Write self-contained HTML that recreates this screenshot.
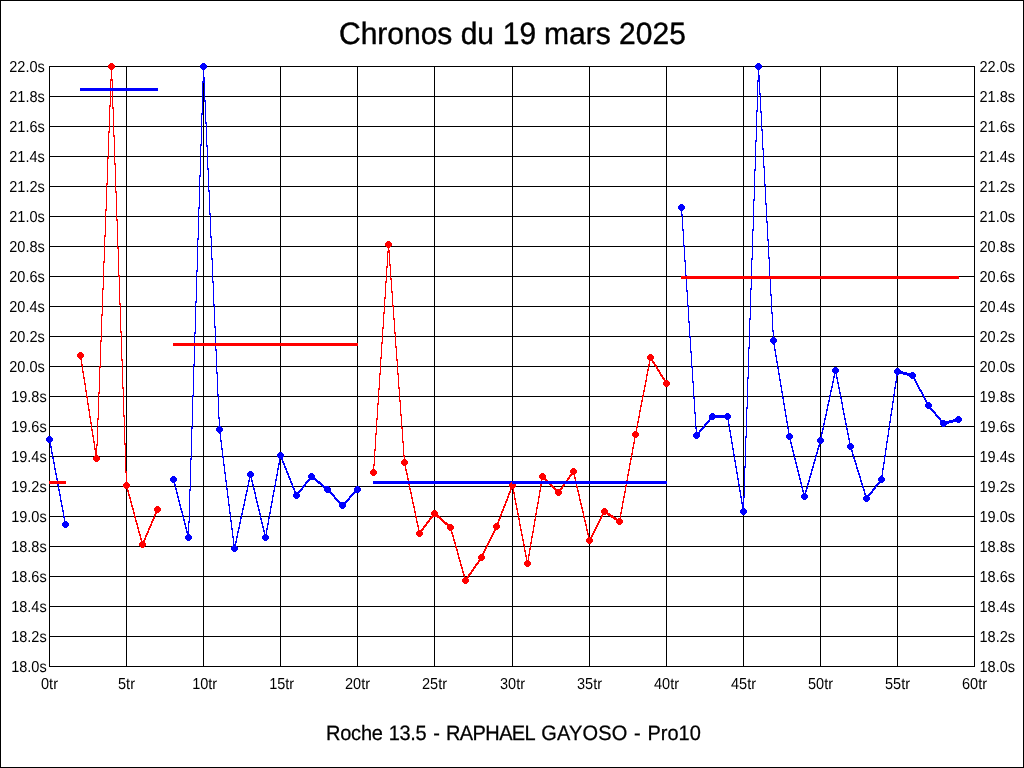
<!DOCTYPE html>
<html><head><meta charset="utf-8"><title>Chronos du 19 mars 2025</title>
<style>
html,body{margin:0;padding:0;background:#fff;width:1024px;height:768px;overflow:hidden}
svg{display:block;position:absolute;left:0;top:0;will-change:transform}
text{font-family:"Liberation Sans",sans-serif;fill:#000;text-rendering:geometricPrecision}
.ax text{font-size:14.67px;letter-spacing:0px}
</style></head><body>
<svg width="1024" height="768" viewBox="0 0 1024 768">
<rect width="1024" height="768" fill="#fff"/>
<g shape-rendering="crispEdges">
<path fill="#000" d="M0 0h1024v1h-1024zM0 767h1024v1h-1024zM0 0h1v768h-1zM1023 0h1v768h-1z"/>
<path fill="#000" d="M49 66h1v601h-1zM126 66h1v601h-1zM203 66h1v601h-1zM280 66h1v601h-1zM357 66h1v601h-1zM434 66h1v601h-1zM512 66h1v601h-1zM589 66h1v601h-1zM666 66h1v601h-1zM743 66h1v601h-1zM820 66h1v601h-1zM897 66h1v601h-1zM974 66h1v601h-1zM49 66h926v1h-926zM49 96h926v1h-926zM49 126h926v1h-926zM49 156h926v1h-926zM49 186h926v1h-926zM49 216h926v1h-926zM49 246h926v1h-926zM49 276h926v1h-926zM49 306h926v1h-926zM49 336h926v1h-926zM49 366h926v1h-926zM49 396h926v1h-926zM49 426h926v1h-926zM49 456h926v1h-926zM49 486h926v1h-926zM49 516h926v1h-926zM49 546h926v1h-926zM49 576h926v1h-926zM49 606h926v1h-926zM49 636h926v1h-926zM49 666h926v1h-926z"/>
<path fill="#f00" d="M110 63h3v1h-3zM109 64h5v1h-5zM108 65h7v3h-7zM109 68h5v1h-5zM110 69h3v1h-3zM111 70h1v9h-1zM110 79h3v2h-3zM112 81h1v7h-1zM110 81h1v7h-1zM110 91h1v14h-1zM112 91h1v16h-1zM109 105h2v2h-2zM112 107h2v2h-2zM109 107h1v24h-1zM108 131h2v2h-2zM113 109h1v26h-1zM113 135h2v2h-2zM108 133h1v24h-1zM107 157h2v2h-2zM114 137h1v26h-1zM114 163h2v2h-2zM107 159h1v24h-1zM106 183h2v2h-2zM115 165h1v26h-1zM115 191h2v2h-2zM106 185h1v24h-1zM105 209h2v2h-2zM116 193h1v26h-1zM116 219h2v2h-2zM105 211h1v24h-1zM104 235h2v2h-2zM387 241h3v1h-3zM386 242h5v1h-5zM385 243h7v3h-7zM117 221h1v26h-1zM386 246h5v1h-5zM387 247h3v1h-3zM117 247h2v2h-2zM388 248h1v2h-1zM388 250h2v1h-2zM387 251h3v2h-3zM104 237h1v24h-1zM103 261h2v2h-2zM389 253h1v11h-1zM387 253h1v13h-1zM389 264h2v2h-2zM386 266h2v2h-2zM118 249h1v26h-1zM118 275h2v2h-2zM390 266h1v12h-1zM681 276h278v3h-278zM390 278h2v2h-2zM386 268h1v13h-1zM385 281h2v2h-2zM103 263h1v25h-1zM102 288h2v2h-2zM391 280h1v11h-1zM391 291h2v2h-2zM385 283h1v14h-1zM384 297h2v2h-2zM119 277h1v26h-1zM392 293h1v12h-1zM119 303h2v2h-2zM392 305h2v2h-2zM384 299h1v13h-1zM102 290h1v24h-1zM383 312h2v2h-2zM101 314h2v2h-2zM393 307h1v11h-1zM393 318h2v2h-2zM383 314h1v13h-1zM382 327h2v2h-2zM120 305h1v26h-1zM394 320h1v12h-1zM120 331h2v2h-2zM394 332h2v2h-2zM101 316h1v24h-1zM382 329h1v13h-1zM100 340h2v2h-2zM381 342h2v2h-2zM395 334h1v12h-1zM173 343h185v3h-185zM395 346h2v2h-2zM79 352h3v1h-3zM78 353h5v1h-5zM649 354h3v1h-3zM648 355h5v1h-5zM381 344h1v13h-1zM77 354h7v3h-7zM78 357h5v1h-5zM121 333h1v26h-1zM396 348h1v11h-1zM647 356h7v3h-7zM380 357h2v2h-2zM79 358h3v1h-3zM648 359h5v1h-5zM80 359h2v1h-2zM121 359h2v2h-2zM396 359h2v2h-2zM649 360h4v1h-4zM652 361h2v1h-2zM652 362h3v1h-3zM81 360h1v4h-1zM649 361h1v3h-1zM653 363h2v1h-2zM654 364h2v1h-2zM100 342h1v24h-1zM648 364h2v2h-2zM81 364h2v2h-2zM654 365h3v1h-3zM655 366h2v1h-2zM99 366h2v2h-2zM648 366h1v3h-1zM656 367h2v2h-2zM657 369h2v1h-2zM82 366h1v5h-1zM647 369h2v2h-2zM657 370h3v1h-3zM658 371h2v1h-2zM380 359h1v14h-1zM397 361h1v12h-1zM82 371h2v2h-2zM647 371h1v3h-1zM659 372h2v2h-2zM397 373h2v2h-2zM379 373h2v2h-2zM660 374h2v1h-2zM646 374h2v2h-2zM660 375h3v1h-3zM83 373h1v4h-1zM661 376h2v1h-2zM662 377h2v1h-2zM83 377h2v2h-2zM662 378h3v1h-3zM646 376h1v4h-1zM663 379h2v1h-2zM664 380h4v1h-4zM645 380h2v2h-2zM664 381h5v1h-5zM84 379h1v4h-1zM645 382h1v3h-1zM663 382h7v3h-7zM84 383h2v2h-2zM664 385h5v1h-5zM122 361h1v26h-1zM398 375h1v12h-1zM644 385h2v2h-2zM665 386h3v1h-3zM379 375h1v13h-1zM398 387h2v2h-2zM122 387h2v2h-2zM85 385h1v5h-1zM644 387h1v3h-1zM378 388h2v2h-2zM99 368h1v24h-1zM85 390h2v2h-2zM643 390h2v2h-2zM98 392h2v2h-2zM643 392h1v3h-1zM86 392h1v4h-1zM642 395h2v2h-2zM86 396h2v2h-2zM399 389h1v11h-1zM642 397h1v3h-1zM641 400h2v2h-2zM399 400h2v2h-2zM378 390h1v13h-1zM87 398h1v5h-1zM641 402h1v3h-1zM87 403h2v2h-2zM377 403h2v2h-2zM640 405h2v2h-2zM88 405h1v4h-1zM640 407h1v3h-1zM88 409h2v2h-2zM639 410h2v2h-2zM400 402h1v12h-1zM123 389h1v26h-1zM89 411h1v5h-1zM639 412h1v4h-1zM400 414h2v2h-2zM123 415h2v2h-2zM98 394h1v24h-1zM377 405h1v13h-1zM638 416h2v2h-2zM89 416h2v2h-2zM376 418h2v2h-2zM97 418h2v2h-2zM638 418h1v3h-1zM90 418h1v4h-1zM637 421h2v2h-2zM90 422h2v2h-2zM637 423h1v3h-1zM401 416h1v11h-1zM636 426h2v2h-2zM91 424h1v5h-1zM401 427h2v2h-2zM636 428h1v3h-1zM91 429h2v2h-2zM634 431h3v1h-3zM376 420h1v13h-1zM633 432h5v1h-5zM92 431h1v4h-1zM375 433h2v2h-2zM632 433h7v3h-7zM92 435h2v2h-2zM633 436h5v1h-5zM634 437h3v1h-3zM402 429h1v12h-1zM93 437h1v4h-1zM634 438h1v4h-1zM124 417h1v26h-1zM93 441h2v2h-2zM402 441h2v2h-2zM97 420h1v24h-1zM633 442h2v2h-2zM124 443h2v2h-2zM96 444h2v2h-2zM633 444h1v3h-1zM94 443h1v5h-1zM96 446h1v2h-1zM375 435h1v14h-1zM632 447h2v2h-2zM94 448h3v2h-3zM374 449h2v2h-2zM632 449h1v4h-1zM403 443h1v12h-1zM95 450h2v5h-2zM631 453h2v2h-2zM95 455h3v1h-3zM403 455h2v2h-2zM94 456h5v1h-5zM631 455h1v3h-1zM404 457h1v2h-1zM93 457h7v3h-7zM630 458h2v2h-2zM403 459h3v1h-3zM94 460h5v1h-5zM402 460h5v1h-5zM95 461h3v1h-3zM630 460h1v3h-1zM374 451h1v13h-1zM401 461h7v3h-7zM629 463h2v2h-2zM402 464h5v1h-5zM373 464h2v2h-2zM403 465h3v1h-3zM629 465h1v4h-1zM405 466h1v3h-1zM373 466h1v3h-1zM572 468h3v1h-3zM571 469h5v1h-5zM372 469h3v1h-3zM125 445h1v26h-1zM628 469h2v2h-2zM405 469h2v2h-2zM371 470h5v1h-5zM570 470h7v3h-7zM406 471h1v2h-1zM125 471h2v2h-2zM370 471h7v3h-7zM628 471h1v3h-1zM571 473h5v1h-5zM541 473h3v1h-3zM406 473h2v2h-2zM371 474h5v1h-5zM570 474h5v1h-5zM540 474h5v1h-5zM627 474h2v2h-2zM569 475h3v1h-3zM372 475h3v1h-3zM574 475h1v2h-1zM569 476h2v1h-2zM539 475h7v3h-7zM407 475h1v3h-1zM568 477h2v1h-2zM574 477h2v2h-2zM567 478h3v1h-3zM540 478h6v1h-6zM627 476h1v4h-1zM407 478h2v2h-2zM541 479h6v1h-6zM567 479h2v1h-2zM575 479h1v2h-1zM626 480h2v1h-2zM408 480h1v1h-1zM566 480h2v1h-2zM541 480h1v1h-1zM545 480h3v1h-3zM126 473h1v9h-1zM511 482h1v1h-1zM125 482h3v1h-3zM49 481h17v3h-17zM124 483h5v1h-5zM510 483h2v1h-2zM626 484h1v1h-1zM563 484h2v1h-2zM549 484h3v1h-3zM408 484h2v1h-2zM540 484h2v2h-2zM576 484h1v2h-1zM550 485h3v1h-3zM562 485h3v1h-3zM123 484h7v3h-7zM509 484h7v3h-7zM625 485h2v2h-2zM562 486h2v1h-2zM551 486h3v1h-3zM409 485h1v3h-1zM576 486h2v2h-2zM510 487h5v1h-5zM561 487h2v1h-2zM124 487h5v1h-5zM552 487h3v1h-3zM560 488h3v1h-3zM510 488h4v1h-4zM125 488h3v1h-3zM553 488h3v1h-3zM540 486h1v4h-1zM409 488h2v2h-2zM577 488h1v2h-1zM554 489h8v1h-8zM127 489h1v1h-1zM510 489h2v1h-2zM625 487h1v4h-1zM510 490h1v1h-1zM555 490h6v1h-6zM513 489h1v3h-1zM127 490h2v2h-2zM577 490h2v2h-2zM539 490h2v2h-2zM410 490h1v2h-1zM509 491h2v2h-2zM624 491h2v2h-2zM555 491h7v3h-7zM128 492h1v2h-1zM578 492h1v2h-1zM410 492h2v2h-2zM513 492h2v2h-2zM508 493h2v2h-2zM556 494h5v1h-5zM539 492h1v4h-1zM624 493h1v3h-1zM128 494h2v2h-2zM578 494h2v2h-2zM508 495h1v1h-1zM557 495h3v1h-3zM411 494h1v3h-1zM129 496h1v1h-1zM514 494h1v4h-1zM507 496h2v2h-2zM623 496h2v2h-2zM538 496h2v2h-2zM579 496h1v3h-1zM411 497h2v2h-2zM129 497h2v2h-2zM507 498h1v1h-1zM514 498h2v2h-2zM623 498h1v3h-1zM130 499h1v2h-1zM506 499h2v2h-2zM579 499h2v2h-2zM538 498h1v4h-1zM412 499h1v3h-1zM515 500h1v3h-1zM130 501h2v2h-2zM580 501h1v2h-1zM505 501h2v2h-2zM622 501h2v2h-2zM412 502h2v2h-2zM537 502h2v2h-2zM505 503h1v1h-1zM580 503h2v2h-2zM131 503h1v2h-1zM515 503h2v2h-2zM413 504h1v2h-1zM504 504h2v2h-2zM622 503h1v4h-1zM537 504h1v3h-1zM581 505h1v2h-1zM131 505h2v2h-2zM156 506h3v1h-3zM516 505h1v3h-1zM413 506h2v2h-2zM503 506h2v2h-2zM132 507h1v1h-1zM155 507h5v1h-5zM536 507h2v2h-2zM621 507h2v2h-2zM581 507h2v2h-2zM503 508h1v1h-1zM603 508h3v1h-3zM516 508h2v2h-2zM132 508h2v2h-2zM602 509h5v1h-5zM414 508h1v3h-1zM154 508h7v3h-7zM502 509h2v2h-2zM582 509h1v2h-1zM433 510h3v1h-3zM621 509h1v3h-1zM133 510h1v2h-1zM155 511h5v1h-5zM432 511h5v1h-5zM536 509h1v4h-1zM517 510h1v3h-1zM601 510h7v3h-7zM582 511h2v2h-2zM414 511h2v2h-2zM501 511h2v2h-2zM155 512h4v1h-4zM133 512h2v2h-2zM620 512h2v2h-2zM501 513h1v1h-1zM155 513h2v1h-2zM602 513h8v1h-8zM431 512h7v3h-7zM535 513h2v2h-2zM517 513h2v2h-2zM607 514h4v1h-4zM602 514h4v1h-4zM415 513h1v3h-1zM583 513h1v3h-1zM134 514h1v2h-1zM500 514h2v2h-2zM154 514h2v2h-2zM608 515h5v1h-5zM432 515h7v1h-7zM601 515h2v2h-2zM154 516h1v1h-1zM500 516h1v1h-1zM431 516h9v1h-9zM610 516h4v1h-4zM620 514h1v4h-1zM518 515h1v3h-1zM583 516h2v2h-2zM134 516h2v2h-2zM415 516h2v2h-2zM437 517h4v1h-4zM430 517h3v1h-3zM611 517h5v1h-5zM535 515h1v4h-1zM600 517h2v2h-2zM499 517h2v2h-2zM153 517h2v2h-2zM613 518h4v1h-4zM439 518h3v1h-3zM429 518h3v1h-3zM618 518h3v1h-3zM584 518h1v2h-1zM135 518h1v2h-1zM518 518h2v2h-2zM429 519h2v1h-2zM440 519h3v1h-3zM614 519h8v1h-8zM416 518h1v3h-1zM498 519h2v2h-2zM599 519h2v2h-2zM152 519h2v2h-2zM534 519h2v2h-2zM441 520h3v1h-3zM428 520h2v1h-2zM584 520h2v2h-2zM135 520h2v2h-2zM498 521h1v1h-1zM442 521h3v1h-3zM427 521h3v1h-3zM616 520h7v3h-7zM416 521h2v2h-2zM598 521h2v2h-2zM151 521h2v2h-2zM136 522h1v1h-1zM443 522h4v1h-4zM426 522h3v1h-3zM497 522h2v1h-2zM519 520h1v4h-1zM585 522h1v2h-1zM151 523h1v1h-1zM444 523h4v1h-4zM495 523h4v1h-4zM617 523h5v1h-5zM426 523h2v1h-2zM534 521h1v4h-1zM417 523h1v2h-1zM597 523h2v2h-2zM136 523h2v2h-2zM494 524h5v1h-5zM425 524h2v1h-2zM445 524h7v1h-7zM618 524h3v1h-3zM150 524h2v2h-2zM519 524h2v2h-2zM585 524h2v2h-2zM447 525h6v1h-6zM424 525h3v1h-3zM596 525h2v2h-2zM137 525h1v2h-1zM533 525h2v2h-2zM417 525h2v2h-2zM423 526h3v1h-3zM493 525h7v3h-7zM149 526h2v2h-2zM423 527h2v1h-2zM520 526h1v3h-1zM586 526h1v3h-1zM447 526h7v3h-7zM137 527h2v2h-2zM595 527h2v2h-2zM494 528h5v1h-5zM422 528h2v1h-2zM418 527h1v3h-1zM148 528h2v2h-2zM421 529h3v1h-3zM494 529h4v1h-4zM448 529h5v1h-5zM533 527h1v4h-1zM138 529h1v2h-1zM586 529h2v2h-2zM520 529h2v2h-2zM594 529h2v2h-2zM148 530h1v1h-1zM449 530h3v1h-3zM418 530h5v1h-5zM494 530h2v1h-2zM417 531h5v1h-5zM451 531h1v1h-1zM493 531h2v2h-2zM532 531h2v2h-2zM593 531h2v2h-2zM147 531h2v2h-2zM587 531h1v2h-1zM138 531h2v2h-2zM521 531h1v3h-1zM451 532h2v2h-2zM139 533h1v1h-1zM416 532h7v3h-7zM146 533h2v2h-2zM592 533h2v2h-2zM492 533h2v2h-2zM587 533h2v2h-2zM452 534h1v1h-1zM532 533h1v3h-1zM139 534h2v2h-2zM521 534h2v2h-2zM417 535h5v1h-5zM588 535h1v2h-1zM491 535h2v2h-2zM591 535h2v2h-2zM452 535h2v2h-2zM145 535h2v2h-2zM418 536h3v1h-3zM531 536h2v2h-2zM140 536h1v2h-1zM145 537h1v1h-1zM588 537h4v1h-4zM522 536h1v3h-1zM453 537h1v2h-1zM490 537h2v2h-2zM587 538h5v1h-5zM140 538h2v2h-2zM144 538h2v2h-2zM522 539h2v2h-2zM489 539h2v2h-2zM453 539h2v2h-2zM141 540h1v1h-1zM143 540h2v1h-2zM531 538h1v4h-1zM586 539h7v3h-7zM141 541h4v1h-4zM454 541h1v1h-1zM488 541h2v2h-2zM587 542h5v1h-5zM140 542h5v1h-5zM523 541h1v3h-1zM454 542h2v2h-2zM530 542h2v2h-2zM588 543h3v1h-3zM487 543h2v2h-2zM139 543h7v3h-7zM523 544h2v2h-2zM455 544h1v2h-1zM486 545h2v2h-2zM140 546h5v1h-5zM530 544h1v4h-1zM455 546h2v2h-2zM141 547h3v1h-3zM485 547h2v2h-2zM456 548h1v1h-1zM524 546h1v4h-1zM529 548h2v2h-2zM456 549h2v2h-2zM484 549h2v2h-2zM524 550h2v2h-2zM457 551h1v2h-1zM483 551h2v2h-2zM529 550h1v4h-1zM482 553h2v1h-2zM525 552h1v3h-1zM457 553h2v2h-2zM480 554h4v1h-4zM528 554h2v2h-2zM479 555h5v1h-5zM458 555h1v2h-1zM525 555h2v2h-2zM478 556h7v3h-7zM458 557h2v2h-2zM528 556h1v4h-1zM526 557h1v3h-1zM479 559h5v1h-5zM459 559h1v1h-1zM526 560h3v1h-3zM478 560h5v1h-5zM459 560h2v2h-2zM478 561h2v1h-2zM525 561h5v1h-5zM477 562h2v1h-2zM460 562h1v2h-1zM476 563h3v1h-3zM524 562h7v3h-7zM475 564h3v1h-3zM460 564h2v2h-2zM525 565h5v1h-5zM475 565h2v1h-2zM474 566h2v1h-2zM526 566h3v1h-3zM461 566h1v1h-1zM473 567h3v1h-3zM461 567h2v2h-2zM473 568h2v1h-2zM472 569h2v1h-2zM462 569h1v2h-1zM471 570h3v1h-3zM471 571h2v1h-2zM462 571h2v2h-2zM470 572h2v1h-2zM469 573h3v1h-3zM463 573h1v1h-1zM468 574h3v1h-3zM463 574h2v2h-2zM468 575h2v1h-2zM467 576h2v1h-2zM464 576h1v1h-1zM464 577h5v1h-5zM463 578h5v1h-5zM462 579h7v3h-7zM463 582h5v1h-5zM464 583h3v1h-3z"/>
<path fill="#00f" d="M202 63h3v1h-3zM757 63h3v1h-3zM201 64h5v1h-5zM756 64h5v1h-5zM200 65h7v3h-7zM755 65h7v3h-7zM201 68h5v1h-5zM756 68h5v1h-5zM202 69h3v1h-3zM757 69h3v1h-3zM758 70h1v5h-1zM203 70h1v7h-1zM758 75h2v5h-2zM203 77h2v4h-2zM757 80h3v2h-3zM202 81h3v2h-3zM80 88h78v3h-78zM759 82h1v11h-1zM759 93h2v2h-2zM204 83h1v17h-1zM204 100h2v2h-2zM757 82h1v28h-1zM760 95h1v16h-1zM756 110h2v2h-2zM202 83h1v30h-1zM760 111h2v2h-2zM201 113h2v2h-2zM205 102h1v20h-1zM205 122h2v2h-2zM761 113h1v16h-1zM761 129h2v2h-2zM756 112h1v28h-1zM755 140h2v2h-2zM201 115h1v29h-1zM206 124h1v21h-1zM200 144h2v2h-2zM206 145h2v2h-2zM762 131h1v17h-1zM762 148h2v2h-2zM763 150h1v16h-1zM207 147h1v21h-1zM763 166h2v2h-2zM755 142h1v27h-1zM207 168h2v2h-2zM754 169h2v2h-2zM200 146h1v29h-1zM199 175h2v2h-2zM764 168h1v16h-1zM764 184h2v2h-2zM208 170h1v20h-1zM208 190h2v2h-2zM754 171h1v28h-1zM753 199h2v2h-2zM765 186h1v17h-1zM765 203h2v2h-2zM680 204h3v1h-3zM679 205h5v1h-5zM199 177h1v30h-1zM678 206h7v3h-7zM198 207h2v2h-2zM679 209h5v1h-5zM680 210h3v1h-3zM209 192h1v21h-1zM681 211h1v3h-1zM209 213h2v2h-2zM681 214h2v2h-2zM766 205h1v16h-1zM766 221h2v2h-2zM753 201h1v28h-1zM682 216h1v13h-1zM682 229h2v2h-2zM752 229h2v2h-2zM210 215h1v21h-1zM198 209h1v29h-1zM210 236h2v2h-2zM767 223h1v16h-1zM197 238h2v2h-2zM767 239h2v2h-2zM683 231h1v14h-1zM683 245h2v2h-2zM768 241h1v16h-1zM752 231h1v27h-1zM211 238h1v20h-1zM768 257h2v2h-2zM684 247h1v13h-1zM751 258h2v2h-2zM211 258h2v2h-2zM684 260h2v2h-2zM197 240h1v30h-1zM196 270h2v2h-2zM685 262h1v13h-1zM769 259h1v17h-1zM751 260h1v16h-1zM685 275h2v1h-2zM212 260h1v21h-1zM212 281h2v2h-2zM751 279h1v9h-1zM686 279h1v11h-1zM750 288h2v2h-2zM686 290h2v2h-2zM770 279h1v15h-1zM770 294h2v2h-2zM196 272h1v29h-1zM195 301h2v2h-2zM213 283h1v21h-1zM687 292h1v13h-1zM213 304h2v2h-2zM687 305h2v2h-2zM771 296h1v16h-1zM771 312h2v2h-2zM750 290h1v28h-1zM749 318h2v2h-2zM688 307h1v14h-1zM688 321h2v2h-2zM214 306h1v20h-1zM214 326h2v2h-2zM772 314h1v16h-1zM195 303h1v29h-1zM772 330h2v2h-2zM194 332h2v2h-2zM689 323h1v13h-1zM773 332h1v5h-1zM689 336h2v2h-2zM772 337h3v1h-3zM771 338h5v1h-5zM770 339h7v3h-7zM215 328h1v15h-1zM194 334h1v9h-1zM771 342h5v1h-5zM772 343h3v1h-3zM773 344h2v1h-2zM749 320h1v27h-1zM774 345h1v4h-1zM215 346h1v3h-1zM748 347h2v2h-2zM690 338h1v13h-1zM215 349h2v2h-2zM774 349h2v2h-2zM690 351h2v2h-2zM775 351h1v4h-1zM775 355h2v2h-2zM776 357h1v4h-1zM776 361h2v2h-2zM194 346h1v18h-1zM691 353h1v13h-1zM193 364h2v2h-2zM777 363h1v4h-1zM691 366h2v2h-2zM834 367h3v1h-3zM777 367h2v2h-2zM833 368h5v1h-5zM896 368h3v1h-3zM895 369h5v1h-5zM894 370h7v1h-7zM216 351h1v21h-1zM832 369h7v3h-7zM894 371h9v1h-9zM778 369h1v4h-1zM894 372h13v1h-13zM833 372h5v1h-5zM911 372h3v1h-3zM216 372h2v2h-2zM895 373h20v1h-20zM834 373h3v1h-3zM778 373h2v2h-2zM903 374h13v1h-13zM896 374h3v1h-3zM834 374h1v2h-1zM896 375h2v1h-2zM907 375h9v1h-9zM748 349h1v28h-1zM836 374h1v3h-1zM909 376h7v1h-7zM833 376h2v2h-2zM910 377h5v1h-5zM779 375h1v4h-1zM747 377h2v2h-2zM836 377h2v2h-2zM911 378h4v1h-4zM692 368h1v13h-1zM896 376h1v5h-1zM833 378h1v3h-1zM914 379h2v2h-2zM779 379h2v2h-2zM837 379h1v3h-1zM832 381h2v2h-2zM895 381h2v2h-2zM692 381h2v2h-2zM915 381h2v2h-2zM837 382h2v2h-2zM780 381h1v4h-1zM916 383h2v2h-2zM832 383h1v3h-1zM895 383h1v4h-1zM838 384h1v3h-1zM780 385h2v2h-2zM917 385h2v2h-2zM831 386h2v2h-2zM894 387h2v2h-2zM918 387h2v2h-2zM838 387h2v2h-2zM831 388h1v2h-1zM919 389h2v1h-2zM781 387h1v4h-1zM919 390h3v1h-3zM839 389h1v3h-1zM830 390h2v2h-2zM920 391h2v1h-2zM781 391h2v2h-2zM217 374h1v20h-1zM894 389h1v5h-1zM921 392h2v2h-2zM839 392h2v2h-2zM193 366h1v29h-1zM830 392h1v3h-1zM893 394h2v2h-2zM922 394h2v2h-2zM217 394h2v2h-2zM693 383h1v14h-1zM782 393h1v4h-1zM840 394h1v3h-1zM192 395h2v2h-2zM829 395h2v2h-2zM923 396h2v2h-2zM840 397h2v2h-2zM782 397h2v2h-2zM693 397h2v2h-2zM829 397h1v3h-1zM924 398h2v2h-2zM893 396h1v5h-1zM841 399h1v3h-1zM828 400h2v2h-2zM925 400h2v2h-2zM783 399h1v4h-1zM892 401h2v2h-2zM926 402h4v1h-4zM841 402h2v2h-2zM828 402h1v2h-1zM926 403h5v1h-5zM783 403h2v2h-2zM827 404h2v2h-2zM747 379h1v28h-1zM925 404h7v3h-7zM892 403h1v5h-1zM842 404h1v4h-1zM926 407h5v1h-5zM784 405h1v4h-1zM827 406h1v3h-1zM746 407h2v2h-2zM927 408h5v1h-5zM891 408h2v2h-2zM842 408h2v2h-2zM930 409h3v1h-3zM826 409h2v2h-2zM784 409h2v2h-2zM931 410h3v1h-3zM694 399h1v13h-1zM932 411h3v1h-3zM843 410h1v3h-1zM933 412h3v1h-3zM891 410h1v4h-1zM826 411h1v3h-1zM694 412h2v2h-2zM934 413h2v1h-2zM711 413h3v1h-3zM726 413h3v1h-3zM785 411h1v4h-1zM843 413h2v2h-2zM725 414h5v1h-5zM935 414h2v1h-2zM710 414h5v1h-5zM825 414h2v2h-2zM890 414h2v2h-2zM935 415h3v1h-3zM218 396h1v21h-1zM785 415h2v2h-2zM957 416h3v1h-3zM936 416h3v1h-3zM844 415h1v3h-1zM709 415h22v3h-22zM825 416h1v2h-1zM937 417h3v1h-3zM956 417h5v1h-5zM218 417h2v2h-2zM709 418h6v1h-6zM955 418h7v1h-7zM725 418h5v1h-5zM938 418h3v1h-3zM844 418h2v2h-2zM824 418h2v2h-2zM953 419h9v1h-9zM709 419h5v1h-5zM939 419h2v1h-2zM726 419h3v1h-3zM890 416h1v5h-1zM786 417h1v4h-1zM940 420h5v1h-5zM949 420h13v1h-13zM708 420h2v1h-2zM940 421h21v1h-21zM707 421h3v1h-3zM845 420h1v3h-1zM824 420h1v3h-1zM889 421h2v2h-2zM786 421h2v2h-2zM706 422h3v1h-3zM957 422h3v1h-3zM940 422h13v1h-13zM728 420h1v4h-1zM705 423h3v1h-3zM940 423h9v1h-9zM823 423h2v2h-2zM845 423h2v2h-2zM704 424h3v1h-3zM940 424h7v1h-7zM219 419h1v7h-1zM728 424h2v2h-2zM941 425h5v1h-5zM704 425h2v1h-2zM192 397h1v30h-1zM695 414h1v13h-1zM787 423h1v4h-1zM703 426h2v1h-2zM942 426h3v1h-3zM218 426h3v1h-3zM889 423h1v5h-1zM846 425h1v3h-1zM823 425h1v3h-1zM217 427h5v1h-5zM702 427h3v1h-3zM191 427h2v2h-2zM695 427h2v2h-2zM787 427h2v2h-2zM701 428h3v1h-3zM729 426h1v4h-1zM888 428h2v2h-2zM846 428h2v2h-2zM822 428h2v2h-2zM700 429h3v1h-3zM216 428h7v3h-7zM699 430h3v1h-3zM696 429h1v3h-1zM822 430h1v2h-1zM729 430h2v2h-2zM217 431h5v1h-5zM699 431h2v1h-2zM788 429h1v4h-1zM847 430h1v3h-1zM695 432h5v1h-5zM218 432h3v1h-3zM821 432h2v2h-2zM694 433h6v1h-6zM219 433h2v1h-2zM788 433h3v1h-3zM888 430h1v5h-1zM847 433h2v2h-2zM787 434h5v1h-5zM746 409h1v27h-1zM730 432h1v4h-1zM693 434h7v3h-7zM821 434h1v3h-1zM887 435h2v2h-2zM48 436h3v1h-3zM848 435h1v3h-1zM786 435h7v3h-7zM745 436h2v2h-2zM730 436h2v2h-2zM819 437h3v1h-3zM47 437h5v1h-5zM694 437h5v1h-5zM787 438h5v1h-5zM818 438h5v1h-5zM695 438h3v1h-3zM220 434h1v6h-1zM848 438h2v2h-2zM788 439h3v1h-3zM887 437h1v4h-1zM46 438h7v3h-7zM731 438h1v4h-1zM817 439h7v3h-7zM220 440h2v2h-2zM790 440h1v2h-1zM47 441h5v1h-5zM849 440h1v3h-1zM886 441h2v2h-2zM818 442h5v1h-5zM48 442h3v1h-3zM790 442h2v2h-2zM731 442h2v2h-2zM819 443h3v1h-3zM849 443h3v1h-3zM848 444h5v1h-5zM819 444h1v1h-1zM50 443h1v3h-1zM791 444h1v2h-1zM818 445h2v2h-2zM221 442h1v6h-1zM886 443h1v5h-1zM732 444h1v4h-1zM847 445h7v3h-7zM50 446h2v2h-2zM791 446h2v2h-2zM818 447h1v1h-1zM848 448h5v1h-5zM885 448h2v2h-2zM732 448h2v2h-2zM817 448h2v2h-2zM792 448h1v2h-1zM221 448h2v2h-2zM849 449h3v1h-3zM51 448h1v4h-1zM792 450h2v2h-2zM817 450h1v2h-1zM851 450h2v2h-2zM279 452h3v1h-3zM733 450h1v4h-1zM793 452h1v2h-1zM816 452h2v2h-2zM51 452h2v2h-2zM852 452h1v2h-1zM278 453h5v1h-5zM885 450h1v5h-1zM816 454h1v1h-1zM222 450h1v6h-1zM852 454h2v2h-2zM793 454h2v2h-2zM733 454h2v2h-2zM52 454h1v3h-1zM277 454h7v3h-7zM815 455h2v2h-2zM884 455h2v2h-2zM853 456h1v1h-1zM191 429h1v29h-1zM222 456h2v2h-2zM794 456h1v2h-1zM278 457h5v1h-5zM853 457h2v2h-2zM52 457h2v2h-2zM815 457h1v2h-1zM279 458h4v1h-4zM734 456h1v4h-1zM794 458h2v2h-2zM190 458h2v2h-2zM854 459h1v1h-1zM281 459h2v1h-2zM814 459h2v2h-2zM282 460h1v1h-1zM884 457h1v5h-1zM53 459h1v3h-1zM734 460h2v2h-2zM795 460h1v2h-1zM854 460h2v2h-2zM814 461h1v1h-1zM279 459h1v4h-1zM282 461h2v2h-2zM855 462h1v1h-1zM223 458h1v6h-1zM795 462h2v2h-2zM53 462h2v2h-2zM813 462h2v2h-2zM883 462h2v2h-2zM278 463h2v2h-2zM855 463h2v2h-2zM283 463h2v2h-2zM745 438h1v28h-1zM735 462h1v4h-1zM813 464h1v2h-1zM796 464h1v2h-1zM223 464h2v2h-2zM284 465h1v1h-1zM856 465h1v2h-1zM54 464h1v4h-1zM883 464h1v4h-1zM278 465h1v3h-1zM284 466h2v2h-2zM812 466h2v2h-2zM744 466h2v2h-2zM735 466h2v2h-2zM796 466h2v2h-2zM856 467h2v2h-2zM812 468h1v1h-1zM797 468h1v2h-1zM285 468h2v2h-2zM277 468h2v2h-2zM882 468h2v2h-2zM54 468h2v2h-2zM857 469h1v1h-1zM811 469h2v2h-2zM286 470h1v1h-1zM224 466h1v6h-1zM736 468h1v4h-1zM857 470h2v2h-2zM797 470h2v2h-2zM249 471h3v1h-3zM55 470h1v3h-1zM286 471h2v2h-2zM811 471h1v2h-1zM858 472h1v1h-1zM248 472h5v1h-5zM277 470h1v4h-1zM798 472h1v2h-1zM736 472h2v2h-2zM224 472h2v2h-2zM310 473h3v1h-3zM882 470h1v5h-1zM55 473h2v2h-2zM287 473h2v2h-2zM810 473h2v2h-2zM858 473h2v2h-2zM309 474h5v1h-5zM247 473h7v3h-7zM798 474h2v2h-2zM276 474h2v2h-2zM810 475h1v1h-1zM288 475h1v1h-1zM881 475h2v1h-2zM859 475h1v1h-1zM172 476h3v1h-3zM248 476h5v1h-5zM880 476h3v1h-3zM737 474h1v4h-1zM308 475h7v3h-7zM56 475h1v3h-1zM859 476h2v2h-2zM799 476h1v2h-1zM809 476h2v2h-2zM288 476h2v2h-2zM249 477h3v1h-3zM879 477h5v1h-5zM171 477h5v1h-5zM276 476h1v3h-1zM309 478h7v1h-7zM225 474h1v6h-1zM56 478h2v2h-2zM799 478h2v2h-2zM737 478h2v2h-2zM860 478h1v2h-1zM289 478h2v2h-2zM249 478h1v2h-1zM251 478h1v2h-1zM809 478h1v2h-1zM308 479h9v1h-9zM170 478h7v3h-7zM878 478h7v3h-7zM275 479h2v2h-2zM290 480h1v1h-1zM57 480h1v1h-1zM307 480h3v1h-3zM315 480h3v1h-3zM860 480h2v2h-2zM808 480h2v2h-2zM251 480h2v2h-2zM248 480h2v2h-2zM225 480h2v2h-2zM800 480h1v2h-1zM316 481h4v1h-4zM373 481h294v1h-294zM306 481h3v1h-3zM879 481h5v1h-5zM171 481h5v1h-5zM290 481h2v2h-2zM172 482h3v1h-3zM808 482h1v1h-1zM305 482h3v1h-3zM317 482h4v1h-4zM861 482h1v1h-1zM878 482h5v1h-5zM373 482h138v1h-138zM738 480h1v4h-1zM800 482h2v2h-2zM252 482h1v2h-1zM512 482h155v2h-155zM318 483h4v1h-4zM174 483h1v1h-1zM877 483h3v1h-3zM305 483h2v1h-2zM373 483h137v1h-137zM275 481h1v4h-1zM248 482h1v3h-1zM291 483h2v2h-2zM861 483h2v2h-2zM807 483h2v2h-2zM320 484h3v1h-3zM304 484h2v1h-2zM876 484h3v1h-3zM57 484h2v2h-2zM801 484h1v2h-1zM252 484h2v2h-2zM174 484h2v2h-2zM738 484h2v2h-2zM292 485h1v1h-1zM303 485h3v1h-3zM875 485h3v1h-3zM862 485h1v1h-1zM321 485h3v1h-3zM274 485h2v2h-2zM247 485h2v2h-2zM807 485h1v2h-1zM302 486h3v1h-3zM356 486h3v1h-3zM875 486h2v1h-2zM322 486h7v1h-7zM226 482h1v6h-1zM253 486h1v2h-1zM175 486h1v2h-1zM801 486h2v2h-2zM862 486h2v2h-2zM292 486h2v2h-2zM302 487h2v1h-2zM355 487h5v1h-5zM874 487h2v1h-2zM323 487h7v1h-7zM190 460h1v29h-1zM58 486h1v3h-1zM806 487h2v2h-2zM873 488h3v1h-3zM863 488h1v1h-1zM301 488h2v1h-2zM739 486h1v4h-1zM247 487h1v3h-1zM274 487h1v3h-1zM802 488h1v2h-1zM253 488h2v2h-2zM175 488h2v2h-2zM226 488h2v2h-2zM293 488h2v2h-2zM872 489h3v1h-3zM806 489h1v1h-1zM300 489h3v1h-3zM354 488h7v3h-7zM324 488h7v3h-7zM189 489h2v2h-2zM863 489h2v2h-2zM58 489h2v2h-2zM872 490h2v1h-2zM299 490h3v1h-3zM294 490h1v1h-1zM273 490h2v2h-2zM246 490h2v2h-2zM254 490h1v2h-1zM805 490h2v2h-2zM176 490h1v2h-1zM739 490h2v2h-2zM802 490h2v2h-2zM325 491h6v1h-6zM294 491h2v1h-2zM354 491h6v1h-6zM871 491h2v1h-2zM298 491h3v1h-3zM864 491h1v2h-1zM294 492h6v1h-6zM870 492h3v1h-3zM803 492h1v1h-1zM805 492h1v1h-1zM353 492h6v1h-6zM326 492h6v1h-6zM59 491h1v3h-1zM246 492h1v2h-1zM254 492h2v2h-2zM176 492h2v2h-2zM869 493h3v1h-3zM294 493h5v1h-5zM330 493h3v1h-3zM803 493h3v1h-3zM352 493h3v1h-3zM273 492h1v3h-1zM864 493h2v2h-2zM351 494h3v1h-3zM868 494h3v1h-3zM331 494h3v1h-3zM802 494h5v1h-5zM744 468h1v28h-1zM227 490h1v6h-1zM740 492h1v4h-1zM59 494h2v2h-2zM245 494h2v2h-2zM177 494h1v2h-1zM332 495h3v1h-3zM350 495h3v1h-3zM865 495h5v1h-5zM293 494h7v3h-7zM255 494h1v3h-1zM272 495h2v2h-2zM333 496h2v1h-2zM864 496h5v1h-5zM349 496h3v1h-3zM801 495h7v3h-7zM227 496h2v2h-2zM743 496h2v2h-2zM177 496h2v2h-2zM740 496h2v2h-2zM349 497h2v1h-2zM294 497h5v1h-5zM334 497h2v1h-2zM245 496h1v3h-1zM255 497h2v2h-2zM802 498h5v1h-5zM295 498h3v1h-3zM334 498h3v1h-3zM348 498h2v1h-2zM60 496h1v4h-1zM863 497h7v3h-7zM178 498h1v2h-1zM347 499h3v1h-3zM335 499h3v1h-3zM803 499h3v1h-3zM272 497h1v4h-1zM256 499h1v2h-1zM244 499h2v2h-2zM864 500h5v1h-5zM346 500h3v1h-3zM336 500h3v1h-3zM741 498h1v4h-1zM743 498h1v4h-1zM178 500h2v2h-2zM60 500h2v2h-2zM865 501h3v1h-3zM337 501h3v1h-3zM345 501h3v1h-3zM256 501h2v2h-2zM271 501h2v2h-2zM338 502h9v1h-9zM228 498h1v6h-1zM244 501h1v3h-1zM179 502h1v2h-1zM741 502h3v2h-3zM61 502h1v3h-1zM257 503h1v2h-1zM271 503h1v3h-1zM243 504h2v2h-2zM179 504h2v2h-2zM228 504h2v2h-2zM339 503h7v4h-7zM257 505h2v2h-2zM61 505h2v2h-2zM742 504h2v4h-2zM243 506h1v2h-1zM270 506h2v2h-2zM180 506h1v2h-1zM340 507h5v1h-5zM258 507h1v2h-1zM341 508h3v1h-3zM742 508h3v1h-3zM62 507h1v3h-1zM242 508h2v2h-2zM180 508h2v2h-2zM741 509h5v1h-5zM258 509h2v2h-2zM181 510h1v1h-1zM229 506h1v6h-1zM270 508h1v4h-1zM62 510h2v2h-2zM740 510h7v3h-7zM242 510h1v3h-1zM259 511h1v2h-1zM181 511h2v2h-2zM269 512h2v2h-2zM229 512h2v2h-2zM741 513h5v1h-5zM259 513h2v2h-2zM182 513h1v2h-1zM241 513h2v2h-2zM742 514h3v1h-3zM63 512h1v4h-1zM269 514h1v3h-1zM182 515h2v2h-2zM241 515h1v2h-1zM260 515h1v3h-1zM63 516h2v2h-2zM183 517h1v2h-1zM240 517h2v2h-2zM268 517h2v2h-2zM230 514h1v6h-1zM260 518h2v2h-2zM189 491h1v30h-1zM64 518h1v3h-1zM183 519h2v2h-2zM240 519h1v3h-1zM261 520h1v2h-1zM230 520h2v2h-2zM64 521h3v1h-3zM268 519h1v4h-1zM188 521h2v2h-2zM184 521h1v2h-1zM63 522h5v1h-5zM239 522h2v2h-2zM261 522h2v2h-2zM184 523h2v2h-2zM267 523h2v2h-2zM62 523h7v3h-7zM262 524h1v2h-1zM239 524h1v3h-1zM185 525h1v2h-1zM63 526h5v1h-5zM231 522h1v6h-1zM267 525h1v3h-1zM262 526h2v2h-2zM64 527h3v1h-3zM185 527h2v2h-2zM238 527h2v2h-2zM266 528h2v2h-2zM263 528h1v2h-1zM231 528h2v2h-2zM188 523h1v8h-1zM238 529h1v2h-1zM186 529h1v2h-1zM263 530h2v2h-2zM237 531h2v2h-2zM186 531h3v2h-3zM266 530h1v4h-1zM264 532h1v2h-1zM187 533h2v1h-2zM264 534h3v1h-3zM187 534h3v1h-3zM232 530h1v6h-1zM237 533h1v3h-1zM263 535h5v1h-5zM186 535h5v1h-5zM236 536h2v2h-2zM232 536h2v2h-2zM185 536h7v3h-7zM262 536h7v3h-7zM186 539h5v1h-5zM263 539h5v1h-5zM236 538h1v3h-1zM264 540h3v1h-3zM187 540h3v1h-3zM235 541h2v2h-2zM233 538h1v6h-1zM235 543h1v1h-1zM233 544h3v2h-3zM232 546h5v1h-5zM231 547h7v3h-7zM232 550h5v1h-5zM233 551h3v1h-3z"/>
</g>
<text transform="translate(338.96 44) scale(1.0 1.03)" font-size="30" stroke="#000" stroke-width="0.4">Chronos</text>
<text transform="translate(460.68 44) scale(1.0 1.03)" font-size="30" stroke="#000" stroke-width="0.4">du</text>
<text transform="translate(502.78 44) scale(1.0 1.03)" font-size="30" stroke="#000" stroke-width="0.4">19</text>
<text transform="translate(544.09 44) scale(1.0 1.03)" font-size="30" stroke="#000" stroke-width="0.4">mars</text>
<text transform="translate(619.09 44) scale(1.0 1.03)" font-size="30" stroke="#000" stroke-width="0.4">2025</text>
<text transform="translate(325.9 740) scale(1.0 1.04)" font-size="20" letter-spacing="-0.18" stroke="#000" stroke-width="0.25">Roche</text>
<text transform="translate(388.75 740) scale(1.0 1.04)" font-size="20" letter-spacing="-0.35" stroke="#000" stroke-width="0.25">13.5</text>
<text transform="translate(433.14 740) scale(1.0 1.04)" font-size="20" stroke="#000" stroke-width="0.25">-</text>
<text transform="translate(445.96 740) scale(1.0 1.04)" font-size="20" letter-spacing="-0.6" stroke="#000" stroke-width="0.25">RAPHAEL</text>
<text transform="translate(541.35 740) scale(1.0 1.04)" font-size="20" letter-spacing="0.15" stroke="#000" stroke-width="0.25">GAYOSO</text>
<text transform="translate(634.0 740) scale(1.0 1.04)" font-size="20" stroke="#000" stroke-width="0.25">-</text>
<text transform="translate(647.41 740) scale(1.0 1.04)" font-size="20" stroke="#000" stroke-width="0.25">Pro10</text>
<g class="ax">
<text transform="translate(44.8 72) scale(0.99 1.08)" text-anchor="end">22.0s</text>
<text transform="translate(979.5 72) scale(0.99 1.08)">22.0s</text>
<text transform="translate(44.8 102) scale(0.99 1.08)" text-anchor="end">21.8s</text>
<text transform="translate(979.5 102) scale(0.99 1.08)">21.8s</text>
<text transform="translate(44.8 132) scale(0.99 1.08)" text-anchor="end">21.6s</text>
<text transform="translate(979.5 132) scale(0.99 1.08)">21.6s</text>
<text transform="translate(44.8 162) scale(0.99 1.08)" text-anchor="end">21.4s</text>
<text transform="translate(979.5 162) scale(0.99 1.08)">21.4s</text>
<text transform="translate(44.8 192) scale(0.99 1.08)" text-anchor="end">21.2s</text>
<text transform="translate(979.5 192) scale(0.99 1.08)">21.2s</text>
<text transform="translate(44.8 222) scale(0.99 1.08)" text-anchor="end">21.0s</text>
<text transform="translate(979.5 222) scale(0.99 1.08)">21.0s</text>
<text transform="translate(44.8 252) scale(0.99 1.08)" text-anchor="end">20.8s</text>
<text transform="translate(979.5 252) scale(0.99 1.08)">20.8s</text>
<text transform="translate(44.8 282) scale(0.99 1.08)" text-anchor="end">20.6s</text>
<text transform="translate(979.5 282) scale(0.99 1.08)">20.6s</text>
<text transform="translate(44.8 312) scale(0.99 1.08)" text-anchor="end">20.4s</text>
<text transform="translate(979.5 312) scale(0.99 1.08)">20.4s</text>
<text transform="translate(44.8 342) scale(0.99 1.08)" text-anchor="end">20.2s</text>
<text transform="translate(979.5 342) scale(0.99 1.08)">20.2s</text>
<text transform="translate(44.8 372) scale(0.99 1.08)" text-anchor="end">20.0s</text>
<text transform="translate(979.5 372) scale(0.99 1.08)">20.0s</text>
<text transform="translate(46.7 402) scale(0.99 1.08)" text-anchor="end">19.8s</text>
<text transform="translate(979.5 402) scale(0.99 1.08)">19.8s</text>
<text transform="translate(46.7 432) scale(0.99 1.08)" text-anchor="end">19.6s</text>
<text transform="translate(979.5 432) scale(0.99 1.08)">19.6s</text>
<text transform="translate(46.7 462) scale(0.99 1.08)" text-anchor="end">19.4s</text>
<text transform="translate(979.5 462) scale(0.99 1.08)">19.4s</text>
<text transform="translate(46.7 492) scale(0.99 1.08)" text-anchor="end">19.2s</text>
<text transform="translate(979.5 492) scale(0.99 1.08)">19.2s</text>
<text transform="translate(46.7 522) scale(0.99 1.08)" text-anchor="end">19.0s</text>
<text transform="translate(979.5 522) scale(0.99 1.08)">19.0s</text>
<text transform="translate(46.7 552) scale(0.99 1.08)" text-anchor="end">18.8s</text>
<text transform="translate(979.5 552) scale(0.99 1.08)">18.8s</text>
<text transform="translate(46.7 582) scale(0.99 1.08)" text-anchor="end">18.6s</text>
<text transform="translate(979.5 582) scale(0.99 1.08)">18.6s</text>
<text transform="translate(46.7 612) scale(0.99 1.08)" text-anchor="end">18.4s</text>
<text transform="translate(979.5 612) scale(0.99 1.08)">18.4s</text>
<text transform="translate(46.7 642) scale(0.99 1.08)" text-anchor="end">18.2s</text>
<text transform="translate(979.5 642) scale(0.99 1.08)">18.2s</text>
<text transform="translate(46.7 672) scale(0.99 1.08)" text-anchor="end">18.0s</text>
<text transform="translate(979.5 672) scale(0.99 1.08)">18.0s</text>
<text transform="translate(49.5 689) scale(0.99 1.08)" text-anchor="middle">0tr</text>
<text transform="translate(126.5 689) scale(0.99 1.08)" text-anchor="middle">5tr</text>
<text transform="translate(204.7 689) scale(0.99 1.08)" text-anchor="middle">10tr</text>
<text transform="translate(281.7 689) scale(0.99 1.08)" text-anchor="middle">15tr</text>
<text transform="translate(357.5 689) scale(0.99 1.08)" text-anchor="middle">20tr</text>
<text transform="translate(434.5 689) scale(0.99 1.08)" text-anchor="middle">25tr</text>
<text transform="translate(512.5 689) scale(0.99 1.08)" text-anchor="middle">30tr</text>
<text transform="translate(589.5 689) scale(0.99 1.08)" text-anchor="middle">35tr</text>
<text transform="translate(666.5 689) scale(0.99 1.08)" text-anchor="middle">40tr</text>
<text transform="translate(743.5 689) scale(0.99 1.08)" text-anchor="middle">45tr</text>
<text transform="translate(820.5 689) scale(0.99 1.08)" text-anchor="middle">50tr</text>
<text transform="translate(897.5 689) scale(0.99 1.08)" text-anchor="middle">55tr</text>
<text transform="translate(974.5 689) scale(0.99 1.08)" text-anchor="middle">60tr</text>
</g>
</svg>
</body></html>
